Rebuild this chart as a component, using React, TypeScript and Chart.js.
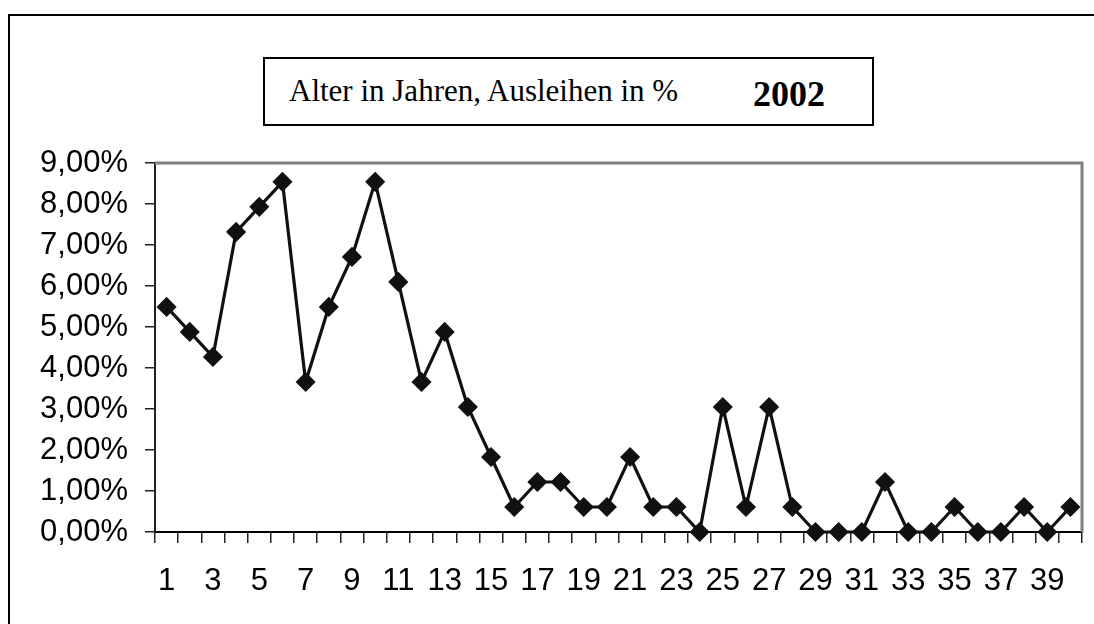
import React, { useEffect, useRef } from "react";
import { Chart, registerables } from "chart.js";

Chart.register(...registerables);

const categories: string[] = Array.from({ length: 40 }, (_, i) => String(i + 1));
const values: number[] = [
  5.49, 4.88, 4.27, 7.32, 7.93, 8.54, 3.66, 5.49, 6.71, 8.54,
  6.1, 3.66, 4.88, 3.05, 1.83, 0.61, 1.22, 1.22, 0.61, 0.61,
  1.83, 0.61, 0.61, 0, 3.05, 0.61, 3.05, 0.61, 0, 0,
  0, 1.22, 0, 0, 0.61, 0, 0, 0.61, 0, 0.61,
];
const yTicks: number[] = [0, 1, 2, 3, 4, 5, 6, 7, 8, 9];
const titleText = "Alter in Jahren, Ausleihen in %";
const yearText = "2002";

const plotBorder = {
  id: "plotBorder",
  afterDraw(chart: any) {
    const { ctx, chartArea } = chart;
    ctx.save();
    ctx.strokeStyle = "#808080";
    ctx.lineWidth = 3;
    ctx.beginPath();
    ctx.moveTo(chartArea.left, chartArea.top);
    ctx.lineTo(chartArea.right, chartArea.top);
    ctx.lineTo(chartArea.right, chartArea.bottom);
    ctx.stroke();
    ctx.restore();
  },
};

export default function App() {
  const ref = useRef<HTMLCanvasElement | null>(null);
  useEffect(() => {
    if (!ref.current) return;
    const chart = new Chart(ref.current, {
      type: "line",
      data: {
        labels: categories,
        datasets: [
          {
            data: values,
            borderColor: "#111",
            backgroundColor: "#111",
            borderWidth: 3.2,
            pointStyle: "rectRot",
            pointRadius: 9,
            pointBorderWidth: 1.5,
            pointBackgroundColor: "#111",
            pointBorderColor: "#111",
            tension: 0,
            clip: false as any,
          },
        ],
      },
      options: {
        animation: false,
        responsive: false,
        layout: { padding: { left: 0, top: 163, right: 12, bottom: 0 } },
        plugins: { legend: { display: false }, tooltip: { enabled: false }, title: { display: false } },
        scales: {
          x: {
            type: "category",
            offset: true,
            afterFit(scale: any) {
              scale.height = 92;
            },
            grid: {
              offset: true,
              drawOnChartArea: false,
              drawTicks: true,
              tickLength: 11,
              color: "#222",
              lineWidth: 1.5,
            },
            border: { display: true, color: "#000", width: 2 },
            ticks: {
              autoSkip: false,
              maxRotation: 0,
              minRotation: 0,
              padding: 20,
              color: "#000",
              font: { family: "'Liberation Sans', Arial, sans-serif", size: 31 },
              callback: (_v: any, i: number) => (i % 2 === 0 ? categories[i] : ""),
            },
          },
          y: {
            min: 0,
            max: 9,
            afterFit(scale: any) {
              scale.width = 155;
            },
            afterBuildTicks(scale: any) {
              scale.ticks = yTicks.map((v) => ({ value: v }));
            },
            grid: {
              drawOnChartArea: false,
              drawTicks: true,
              tickLength: 10,
              color: "#222",
              lineWidth: 1.5,
            },
            border: { display: true, color: "#222", width: 2 },
            ticks: {
              padding: 17,
              color: "#000",
              font: { family: "'Liberation Sans', Arial, sans-serif", size: 31 },
              callback: (v: any) => Number(v).toFixed(2).replace(".", ",") + "%",
            },
          },
        },
      },
      plugins: [plotBorder],
    });
    return () => chart.destroy();
  }, []);

  return (
    <div style={{ position: "fixed", left: 0, top: 0, width: 1094, height: 624, overflow: "hidden", background: "#fff" }}>
      <div
        style={{
          position: "absolute",
          left: 8,
          top: 14,
          width: 1086,
          height: 610,
          boxSizing: "border-box",
          borderLeft: "2px solid #000",
          borderTop: "2px solid #000",
        }}
      />
      <canvas ref={ref} width={1094} height={624} style={{ position: "absolute", left: 0, top: 0, width: 1094, height: 624 }} />
      <div
        style={{
          position: "absolute",
          left: 263,
          top: 57,
          width: 611,
          height: 69,
          boxSizing: "border-box",
          border: "2px solid #000",
          background: "#fff",
        }}
      >
        <span
          style={{
            position: "absolute",
            left: 24,
            top: 16,
            fontFamily: "'Liberation Serif', 'Times New Roman', serif",
            fontSize: 31,
            lineHeight: "31px",
            whiteSpace: "nowrap",
            color: "#000",
          }}
        >
          {titleText}
        </span>
        <span
          style={{
            position: "absolute",
            left: 488,
            top: 17,
            fontFamily: "'Liberation Serif', 'Times New Roman', serif",
            fontSize: 36,
            fontWeight: "bold",
            lineHeight: "36px",
            whiteSpace: "nowrap",
            color: "#000",
          }}
        >
          {yearText}
        </span>
      </div>
    </div>
  );
}
